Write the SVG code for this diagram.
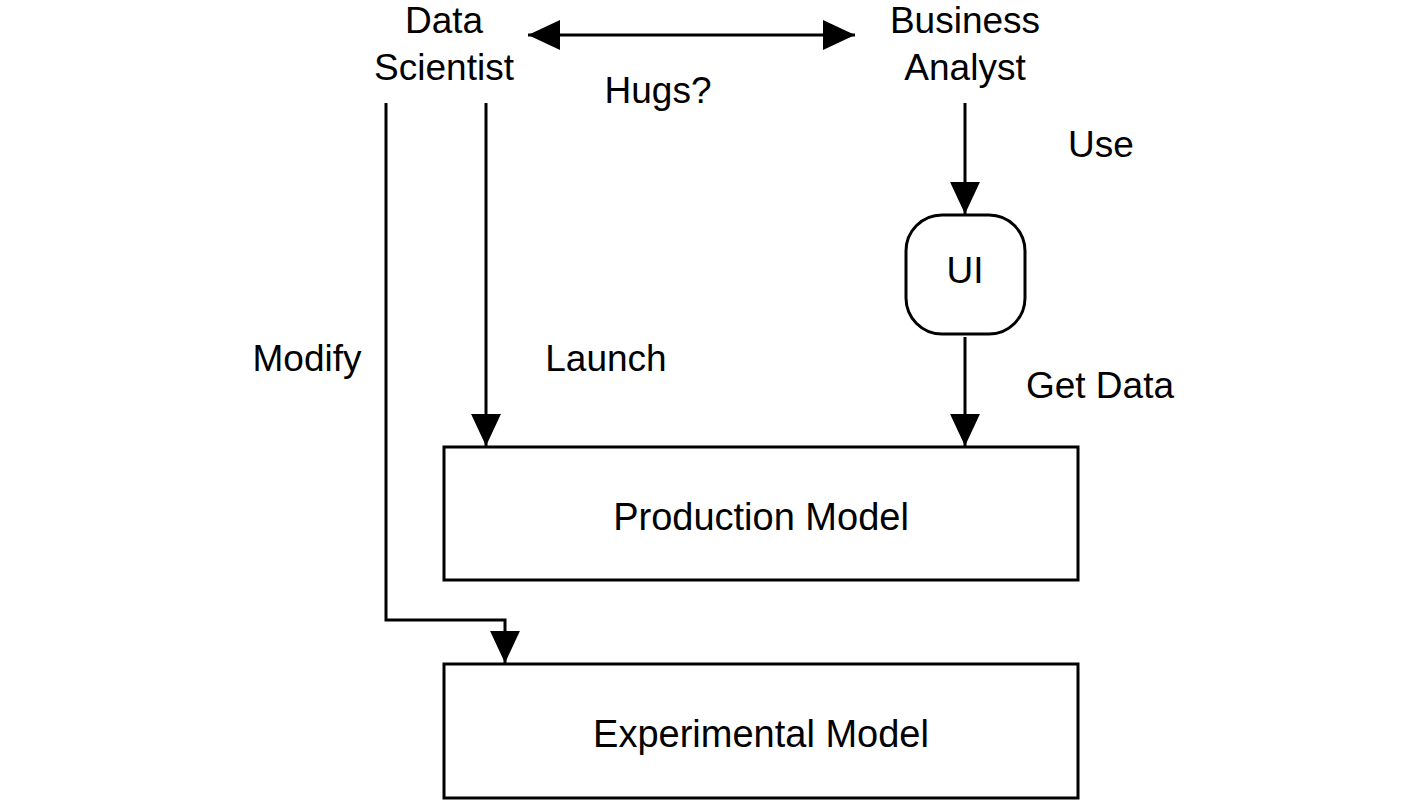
<svg xmlns="http://www.w3.org/2000/svg" width="1427" height="801" viewBox="0 0 1427 801">
<style>
text{font-family:"Liberation Sans",Arial,sans-serif;font-size:37px;fill:#000;text-anchor:middle}
.big{font-size:38px}
.box{fill:#fff;stroke:#000;stroke-width:3}
.ln{fill:none;stroke:#000;stroke-width:3}
</style>
<defs>
<marker id="ah" markerUnits="userSpaceOnUse" markerWidth="32" markerHeight="32" viewBox="0 0 30 28" refX="30" refY="14" orient="auto-start-reverse">
<path d="M0,0 L30,14 L0,28 Z" fill="#000"/>
</marker>
</defs>
<rect width="1427" height="801" fill="#fff"/>
<g id="connectors">
<line class="ln" x1="528" y1="35" x2="855" y2="35" marker-start="url(#ah)" marker-end="url(#ah)"/>
<line class="ln" x1="486" y1="103" x2="486" y2="446" marker-end="url(#ah)"/>
<polyline class="ln" points="386,103 386,620 505,620 505,663" marker-end="url(#ah)"/>
<line class="ln" x1="965" y1="103" x2="965" y2="214" marker-end="url(#ah)"/>
<line class="ln" x1="965" y1="337" x2="965" y2="446" marker-end="url(#ah)"/>
</g>
<g id="labels">
<text x="658" y="103">Hugs?</text>
<text x="1101" y="157">Use</text>
<text x="307" y="371">Modify</text>
<text x="606" y="371">Launch</text>
<text x="1100" y="398">Get Data</text>
</g>
<g id="data-scientist">
<text x="444" y="33">Data</text>
<text x="444" y="80">Scientist</text>
</g>
<g id="business-analyst">
<text x="965" y="33">Business</text>
<text x="965" y="80">Analyst</text>
</g>
<g id="ui">
<rect class="box" x="906" y="215" width="119" height="119" rx="36"/>
<text x="965" y="283">UI</text>
</g>
<g id="production-model">
<rect class="box" x="444" y="447" width="634" height="133"/>
<text class="big" x="761" y="530">Production Model</text>
</g>
<g id="experimental-model">
<rect class="box" x="444" y="664" width="634" height="134"/>
<text class="big" x="761" y="747">Experimental Model</text>
</g>
</svg>
